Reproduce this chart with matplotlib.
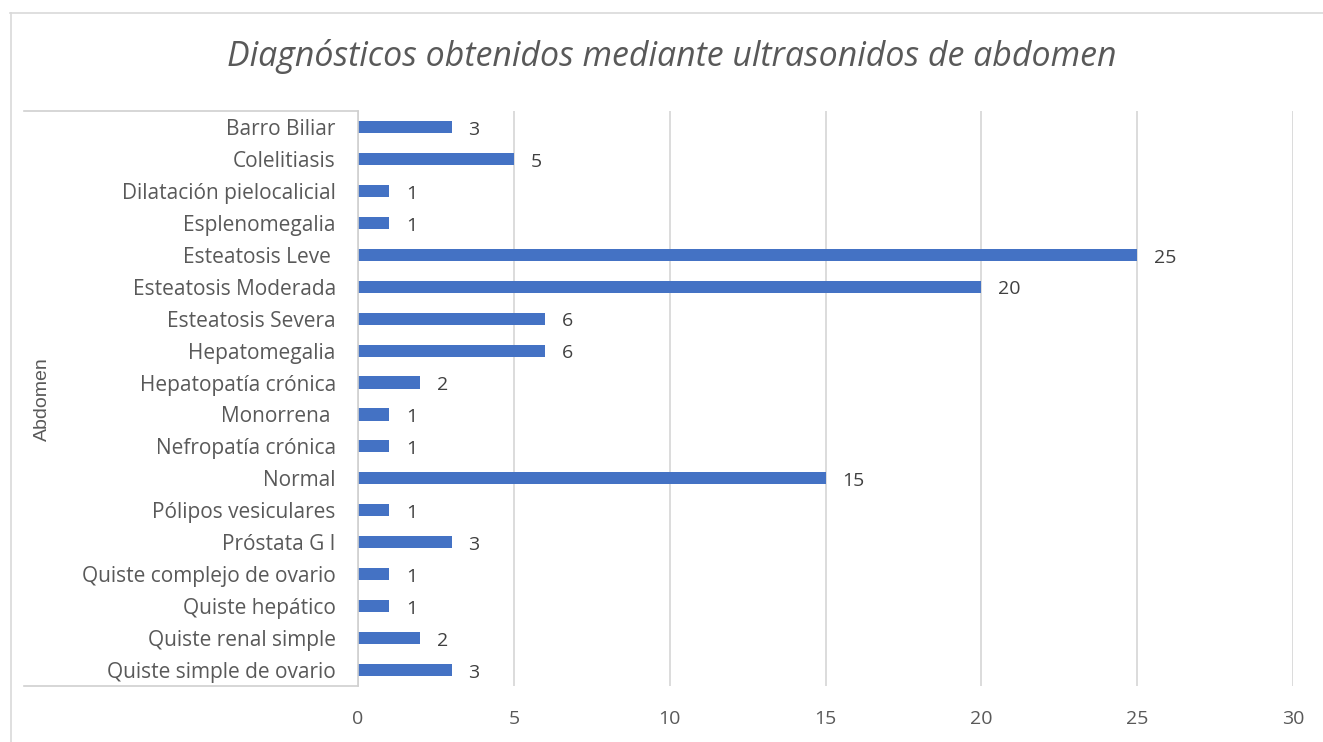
import matplotlib
matplotlib.use('Agg')
import matplotlib.pyplot as plt
from matplotlib.lines import Line2D

# diagnósticos y número de casos
categories = ['Barro Biliar', 'Colelitiasis', 'Dilatación pielocalicial', 'Esplenomegalia',
              'Esteatosis Leve ', 'Esteatosis Moderada', 'Esteatosis Severa', 'Hepatomegalia',
              'Hepatopatía crónica', 'Monorrena ', 'Nefropatía crónica', 'Normal',
              'Pólipos vesiculares', 'Próstata G I', 'Quiste complejo de ovario',
              'Quiste hepático', 'Quiste renal simple', 'Quiste simple de ovario']
values = [3, 5, 1, 1, 25, 20, 6, 6, 2, 1, 1, 15, 1, 3, 1, 1, 2, 3]
xticks = [0, 5, 10, 15, 20, 25, 30]
group_label = 'Abdomen'
title = 'Diagnósticos obtenidos mediante ultrasonidos de abdomen'

W, H = 1323, 742
fig = plt.figure(figsize=(W / 100, H / 100), dpi=100)
fig.patch.set_facecolor('white')

L, R, T, B = 358, 1293, 111, 686
ax = fig.add_axes([L / W, 1 - B / H, (R - L) / W, (B - T) / H])

txt = '#595959'
grid = '#D9D9D9'
font = 'Open Sans'

y = list(range(len(categories)))
ax.barh(y, values, height=0.38, color='#4472C4', zorder=3)
for yi, v in zip(y, values):
    ax.annotate(str(v), (v, yi), xytext=(12, -2), textcoords='offset points',
                ha='left', va='center', fontsize=14, color='#404040', family=font)

ax.set_ylim(len(categories) - 0.5, -0.5)
ax.set_xlim(0, 30)
ax.set_xticks(xticks)
ax.set_yticks(y)
ax.set_yticklabels(categories, fontsize=15, color=txt, family=font)
ax.set_xticklabels([str(t) for t in xticks], fontsize=14, color=txt, family=font)
ax.tick_params(axis='y', length=0, pad=16)
ax.tick_params(axis='x', length=0, pad=17)
ax.xaxis.grid(True, color=grid, linewidth=1.3, zorder=0)
for s in ax.spines.values():
    s.set_visible(False)

# caja de la categoría agrupada
lc = '#D0D0D0'
for xs, ys in [([24, L], [T, T]), ([L, L], [T, B]), ([24, L], [B, B])]:
    fig.add_artist(Line2D([x / W for x in xs], [1 - v / H for v in ys], color=lc, lw=1.2))
# borde del gráfico
fig.add_artist(Line2D([10 / W, 1], [1 - 13 / H, 1 - 13 / H], color=grid, lw=1.2))
fig.add_artist(Line2D([11 / W, 11 / W], [1 - 13 / H, 0], color=grid, lw=1.2))

fig.text(42 / W, 1 - 399 / H, group_label, rotation=90, ha='center', va='center',
         fontsize=14, color=txt, family='Liberation Sans')
fig.text(672 / W, 1 - 57 / H, title, ha='center', va='center', fontsize=24.4,
         style='italic', color=txt, family='Open Sans')

fig.savefig('out.png', dpi=100)
